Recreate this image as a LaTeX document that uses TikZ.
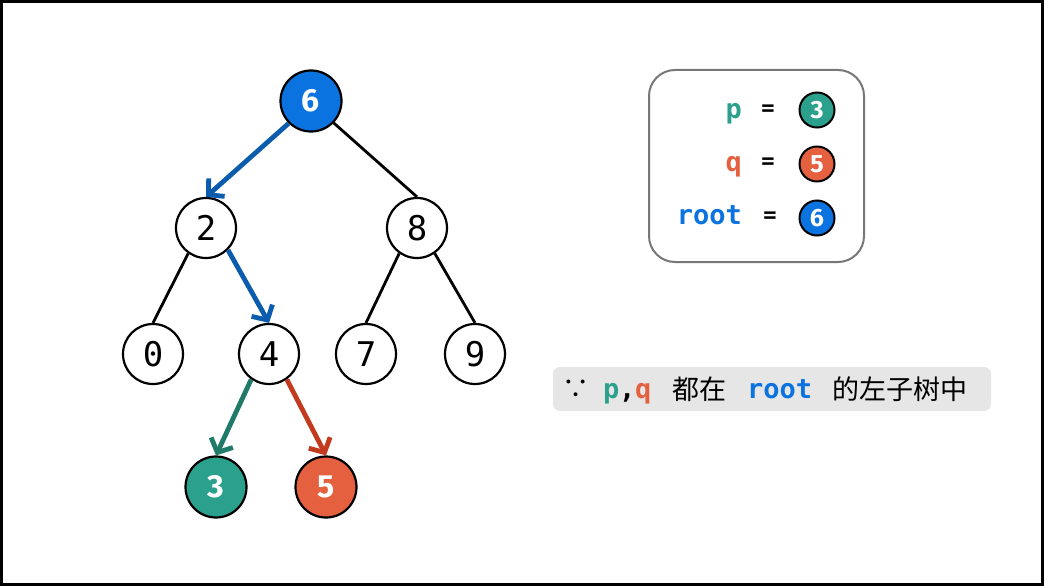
\documentclass[tikz,border=0pt]{standalone}
\usepackage{fontspec}
\usetikzlibrary{arrows.meta}
\newfontfamily\monof{DejaVu Sans Mono}
\newfontfamily\digf{Fira Sans}
\newfontfamily\cjk{Noto Sans CJK SC}
\definecolor{bluefill}{HTML}{0A73E0}
\definecolor{tealfill}{HTML}{2BA08D}
\definecolor{orangefill}{HTML}{E5603F}
\definecolor{bluearr}{HTML}{0B5CAD}
\definecolor{greenarr}{HTML}{1F7A68}
\definecolor{redarr}{HTML}{C23B1E}
\definecolor{boxgray}{HTML}{E6E6E6}
\definecolor{legendgray}{HTML}{777777}
\begin{document}
\begin{tikzpicture}[x=1pt,y=-1pt,
  tnode/.style={circle,draw=black,line width=2.2pt,minimum size=60pt,inner sep=0pt,fill=white,font=\monof\fontsize{34}{34}\selectfont},
  hnode/.style={circle,draw=black,line width=2.2pt,minimum size=61pt,inner sep=0pt,text=white,font=\digf\bfseries\fontsize{32}{32}\selectfont},
  lnode/.style={circle,draw=black,line width=2pt,minimum size=35pt,inner sep=0pt,text=white,font=\digf\bfseries\fontsize{25}{25}\selectfont},
  tedge/.style={line width=2.8pt,black},
  aedge/.style={line width=4.8pt,-{Straight Barb[length=11pt,width=24pt,line width=4.8pt]}},
  mono/.style={font=\monof\bfseries\fontsize{27}{27}\selectfont,inner sep=0pt},
  cjkt/.style={font=\cjk\fontsize{27}{27}\selectfont,inner sep=0pt}
]
\useasboundingbox (0,0) rectangle (1044,586);
\draw[line width=2.6pt] (1.3,1.3) rectangle (1042.7,584.7);

% tree nodes
\node[hnode,fill=bluefill] (n6) at (311,101) {6};
\node[tnode] (n2) at (206,228) {2};
\node[tnode] (n8) at (417,228) {8};
\node[tnode] (n0) at (153,354) {0};
\node[tnode] (n4) at (269,354) {4};
\node[tnode] (n7) at (366,354) {7};
\node[tnode] (n9) at (475,354) {9};
\node[hnode,fill=tealfill] (n3) at (216,487) {3};
\node[hnode,fill=orangefill] (n5) at (326,487) {5};

% edges
\draw[tedge] (n6.-44) -- (n8.north);
\draw[tedge] (n2.-125) -- (n0.north);
\draw[tedge] (n8.-125) -- (n7.north);
\draw[tedge] (n8.-55) -- (n9.north);
\draw[aedge,bluearr] (n6.-135) -- (n2.north);
\draw[aedge,bluearr] (n2.-45) -- (n4.north);
\draw[aedge,greenarr] (n4.-125) -- (n3.north);
\draw[aedge,redarr] (n4.-55) -- (n5.north);

% legend
\draw[legendgray,line width=2pt,rounded corners=26pt] (649,70) rectangle (864,262);
\node[mono,text=tealfill,anchor=base east] (lp) at (742,118) {p};
\node[mono,text=orangefill,anchor=base east] (lq) at (742,171) {q};
\node[mono,text=bluefill,anchor=base east] (lr) at (742,224) {root};
\node[mono,font=\monof\bfseries\fontsize{22}{22}\selectfont] (e1) at (768,110) {=};
\node[mono,font=\monof\bfseries\fontsize{22}{22}\selectfont] (e2) at (768,163) {=};
\node[mono,font=\monof\bfseries\fontsize{22}{22}\selectfont] (e3) at (770,217) {=};
\node[lnode,fill=tealfill] (l3) at (817,110) {3};
\node[lnode,fill=orangefill] (l5) at (817,164) {5};
\node[lnode,fill=bluefill] (l6) at (817,218) {6};

% bottom statement
\fill[boxgray,rounded corners=7pt] (553,367) rectangle (991,411);
\node[cjkt,anchor=center] (because) at (576,389) {∵};
\node[mono,text=tealfill,anchor=base west] (sp) at (603,398) {p};
\node[mono,anchor=base west] (sc) at (619,398) {,};
\node[mono,text=orangefill,anchor=base west] (sq) at (635,398) {q};
\node[cjkt,anchor=west] (s1) at (672,389) {都在};
\node[mono,text=bluefill,anchor=base west] (sr) at (747,398) {root};
\node[cjkt,anchor=west] (s2) at (832,389) {的左子树中};
\end{tikzpicture}
\end{document}
